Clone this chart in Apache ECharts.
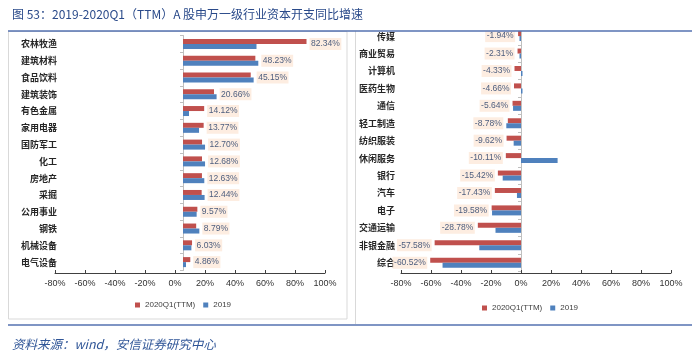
<!DOCTYPE html>
<html>
<head>
<meta charset="utf-8">
<script src="https://cdn.jsdelivr.net/npm/echarts@6/dist/echarts.min.js"></script>
<style>html,body{margin:0;padding:0;background:#fff;}#c{width:700px;height:361px;}</style>
</head>
<body>
<div id="c"></div>
<script>
const leftCategories = ['农林牧渔','建筑材料','食品饮料','建筑装饰','有色金属','家用电器','国防军工','化工','房地产','采掘','公用事业','钢铁','机械设备','电气设备'];
const leftTTM = [82.34, 48.23, 45.15, 20.66, 14.12, 13.77, 12.70, 12.68, 12.63, 12.44, 9.57, 8.79, 6.03, 4.86];
const left2019 = [49.0, 50.2, 47.1, 22.4, 4.0, 10.7, 14.7, 14.7, 14.2, 14.4, 9.1, 10.9, 5.6, 2.0];

const rightCategories = ['传媒','商业贸易','计算机','医药生物','通信','轻工制造','纺织服装','休闲服务','银行','汽车','电子','交通运输','非银金融','综合'];
const rightTTM = [-1.94, -2.31, -4.33, -4.66, -5.64, -8.78, -9.62, -10.11, -15.42, -17.43, -19.58, -28.78, -57.58, -60.52];
const right2019 = [-1.0, -1.0, 1.0, 1.0, -5.3, -9.8, -4.9, 24.4, -12.2, -2.7, -19.3, -17.0, -27.8, -52.3];

const seriesNames = ['2020Q1(TTM)', '2019'];
const axisMin = -80, axisMax = 100, axisStep = 20;

const RED = '#c0504d', BLUE = '#4f81bd';
const NUM_FONT = "'Liberation Sans Narrow','Liberation Sans',Arial,sans-serif";
const CJK_FONT = "'Noto Sans CJK SC',sans-serif";

const chart = echarts.init(document.getElementById('c'), null, {renderer: 'canvas'});

function labelStyle(pos) {
  return {
    show: true, position: pos, distance: 3,
    backgroundColor: '#fde9d9', padding: [1, 1.5], lineHeight: 10,
    color: '#1f3864', fontSize: 8.5, fontFamily: NUM_FONT,
    formatter: p => p.data[2].toFixed(2) + '%'
  };
}

const grids = [
  {left: 63, top: 35.5, width: 270, height: 235, outerBoundsMode: 'none'},   // left bars
  {left: 55, top: 40, width: 270, height: 233, outerBoundsMode: 'none'},     // left axis
  {left: 401, top: 27.4, width: 270, height: 244, outerBoundsMode: 'none'},  // right bars
  {left: 401, top: 40, width: 270, height: 233, outerBoundsMode: 'none'}     // right axis
];

function barX(gi) {
  return {gridIndex: gi, type: 'value', min: axisMin, max: axisMax, interval: axisStep, show: false};
}
function barY(gi, cats) {
  return {
    gridIndex: gi, type: 'category', inverse: true, data: cats,
    axisLine: {show: true, onZero: true, lineStyle: {color: '#bfbfbf', width: 1}},
    axisTick: {show: true, length: 3, lineStyle: {color: '#bfbfbf'}},
    axisLabel: {margin: 6, fontSize: 9, color: '#262626', fontFamily: CJK_FONT, fontWeight: 'bold'},
    splitLine: {show: false}
  };
}
function axisX(gi) {
  return {
    gridIndex: gi, type: 'value', min: axisMin, max: axisMax, interval: axisStep,
    axisLine: {show: true, onZero: false, lineStyle: {color: '#404040', width: 1}},
    axisTick: {show: true, inside: true, length: 3, lineStyle: {color: '#404040'}},
    axisLabel: {formatter: '{value}%', fontSize: 9, color: '#333333', margin: 6, fontFamily: NUM_FONT},
    splitLine: {show: false}
  };
}
function axisY(gi) {
  return {gridIndex: gi, type: 'category', data: [''], show: false};
}

function bars(xi, yi, vals, name, color) {
  return {
    type: 'bar', name: name, xAxisIndex: xi, yAxisIndex: yi,
    data: vals, barWidth: 5, barGap: '0%', itemStyle: {color: color},
    silent: true, animation: false
  };
}
function labels(xi, yi, red, blue, positive) {
  const data = red.map((r, i) => {
    const anchor = positive ? Math.max(r, blue[i]) : Math.min(r, blue[i]);
    return [anchor, i, r];
  });
  return {
    type: 'scatter', xAxisIndex: xi, yAxisIndex: yi, data: data,
    symbolSize: 0, silent: true, animation: false, z: 5,
    label: labelStyle(positive ? 'right' : 'left')
  };
}

const legendBase = {
  data: seriesNames, icon: 'rect', itemWidth: 5, itemHeight: 5, itemGap: 8, padding: 0,
  textStyle: {fontSize: 8, color: '#404040', fontFamily: NUM_FONT}, selectedMode: false
};

const option = {
  animation: false,
  backgroundColor: '#ffffff',
  title: [
    {text: '图 53：2019-2020Q1（TTM）A 股申万一级行业资本开支同比增速', left: 7, top: 3,
     textStyle: {fontSize: 12, fontWeight: 'normal', color: '#2a4a8a', fontFamily: CJK_FONT}},
    {text: '资料来源：wind，安信证券研究中心', left: 7, top: 333,
     textStyle: {fontSize: 12.5, fontWeight: 'normal', fontStyle: 'italic', color: '#2f5597', fontFamily: CJK_FONT}}
  ],
  legend: [
    Object.assign({}, legendBase, {left: 135, top: 301}),
    Object.assign({}, legendBase, {left: 482, top: 304})
  ],
  grid: grids,
  xAxis: [barX(0), axisX(1), barX(2), axisX(3)],
  yAxis: [barY(0, leftCategories), axisY(1), barY(2, rightCategories), axisY(3)],
  series: [
    bars(0, 0, leftTTM, seriesNames[0], RED),
    bars(0, 0, left2019, seriesNames[1], BLUE),
    labels(0, 0, leftTTM, left2019, true),
    bars(2, 2, rightTTM, seriesNames[0], RED),
    bars(2, 2, right2019, seriesNames[1], BLUE),
    labels(2, 2, rightTTM, right2019, false)
  ],
  graphic: [
    {type: 'rect', shape: {x: 368, y: 0, width: 332, height: 31}, style: {fill: '#ffffff'}, z: 100},
    {type: 'rect', shape: {x: 8.5, y: 31.5, width: 338.5, height: 287.5}, style: {fill: 'none', stroke: '#d9d9d9', lineWidth: 1}, z: 90},
    {type: 'line', shape: {x1: 355.5, y1: 31, x2: 355.5, y2: 324}, style: {stroke: '#d9d9d9', lineWidth: 1}, z: 90},
    {type: 'line', shape: {x1: 8, y1: 31, x2: 692, y2: 31}, style: {stroke: '#5572b0', lineWidth: 1.5}, z: 101},
    {type: 'line', shape: {x1: 8, y1: 325, x2: 692, y2: 325}, style: {stroke: '#5572b0', lineWidth: 1.5}, z: 101}
  ]
};
chart.setOption(option);
</script>
</body>
</html>
